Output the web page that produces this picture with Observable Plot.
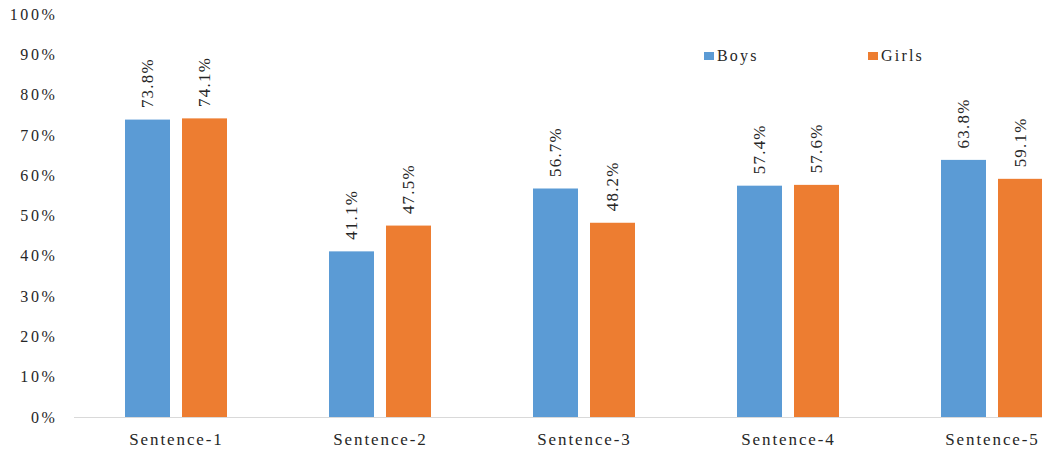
<!DOCTYPE html>
<html>
<head>
<meta charset="utf-8">
<script src="https://cdn.jsdelivr.net/npm/d3@7"></script>
<script src="https://cdn.jsdelivr.net/npm/@observablehq/plot@0.6"></script>
<style>
  html, body { margin: 0; padding: 0; background: #fff; overflow: hidden; }
  #wrap { position: relative; width: 1042px; height: 453px; overflow: hidden; }
  #wrap svg { max-width: none !important; }
  g[aria-label="fx-axis tick label"] text { letter-spacing: 1.9px; }
  g[aria-label="y-axis tick label"] text { letter-spacing: 2.6px; }
  g[aria-label="text"] text { letter-spacing: 1.2px; }
  .legend { position: absolute; font-family: 'Liberation Serif', 'Times New Roman', serif; font-size: 16px; letter-spacing: 2.2px; color: #262626; line-height: 1; }
  .legend i { position: absolute; left: -13px; top: 4px; width: 10px; height: 8px; }
</style>
</head>
<body>
<div id="wrap"></div>
<script>
const categories = ["Sentence-1", "Sentence-2", "Sentence-3", "Sentence-4", "Sentence-5"];
const groups = ["Boys", "Girls"];
const boys = [73.8, 41.1, 56.7, 57.4, 63.8];
const girls = [74.1, 47.5, 48.2, 57.6, 59.1];
const yTicks = [0, 0.1, 0.2, 0.3, 0.4, 0.5, 0.6, 0.7, 0.8, 0.9, 1.0];
const colors = ["#5B9BD5", "#ED7D31"];

const data = [];
categories.forEach((c, i) => {
  data.push({cat: c, group: "Boys", value: boys[i] / 100});
  data.push({cat: c, group: "Girls", value: girls[i] / 100});
});

const chart = Plot.plot({
  width: 1096,
  height: 453,
  marginLeft: 72,
  marginRight: 0,
  marginTop: 14,
  marginBottom: 36,
  style: {fontFamily: "'Liberation Serif', 'Times New Roman', serif", fontSize: "16px", color: "#262626", background: "#fff"},
  fx: {domain: categories, padding: 0, axis: null, label: null},
  x: {domain: groups, paddingInner: 0.207, paddingOuter: 0.868, axis: null, label: null},
  y: {domain: [0, 1], axis: null, label: null},
  color: {domain: groups, range: colors},
  marks: [
    Plot.axisY({ticks: yTicks, tickSize: 0, tickPadding: 17, tickFormat: d => Math.round(d * 100) + "%", fontSize: 16, label: null}),
    Plot.axisFx({anchor: "bottom", tickSize: 0, tickPadding: 15, fontSize: 17, label: null}),
    Plot.ruleY([0], {stroke: "#d9d9d9", strokeWidth: 1}),
    Plot.barY(data, {fx: "cat", x: "group", y: "value", fill: "group"}),
    Plot.text(data, {fx: "cat", x: "group", y: "value", text: d => (d.value * 100).toFixed(1) + "%", rotate: -90, textAnchor: "start", dy: -12, fontSize: 17, fill: "#262626"})
  ]
});
const wrap = document.getElementById("wrap");
wrap.appendChild(chart);

groups.forEach((g, i) => {
  const el = document.createElement("div");
  el.className = "legend";
  el.style.left = (i === 0 ? 717 : 881) + "px";
  el.style.top = "48px";
  el.innerHTML = `<i style="background:${colors[i]}"></i>${g}`;
  wrap.appendChild(el);
});
</script>
</body>
</html>
